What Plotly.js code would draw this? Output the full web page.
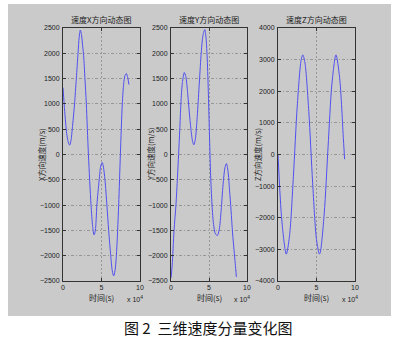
<!DOCTYPE html>
<html><head><meta charset="utf-8">
<script src="https://cdn.plot.ly/plotly-3.0.1.min.js"></script>
<style>html,body{margin:0;padding:0;background:#fff}#c{width:407px;height:343px}</style>
</head><body><div id="c"></div>
<script>
// time in units of 10^4 s
var tX = [0,0.15,0.3,0.45,0.6,0.75,0.87,1.05,1.2,1.35,1.5,1.73,1.95,2.1,2.25,2.4,2.55,2.68,2.85,3.03,3.3,3.64,3.85,4.03,4.2,4.4,4.7,4.9,5.1,5.25,5.45,5.7,5.93,6.2,6.4,6.58,6.75,6.93,7.23,7.45,7.7,7.88,8.05,8.23,8.4,8.57];
var vX = [1320,1000,700,450,300,210,185,290,500,740,1000,1500,2000,2320,2460,2370,2150,1950,1500,1000,0,-1000,-1420,-1590,-1500,-1000,-500,-230,-160,-250,-500,-1000,-1500,-2000,-2300,-2400,-2300,-2000,-1000,0,1000,1400,1560,1600,1520,1380];
var tY = [0,0.15,0.4,0.65,0.85,1.0,1.15,1.3,1.5,1.75,1.95,2.2,2.45,2.7,2.85,3.0,3.2,3.45,3.7,3.95,4.2,4.45,4.6,4.75,4.9,5.05,5.2,5.4,5.6,5.85,6.1,6.35,6.6,6.85,7.1,7.3,7.5,7.7,7.9,8.1,8.3,8.45,8.6];
var vY = [-2440,-2200,-1500,-1000,-450,0,480,1000,1420,1620,1540,1200,760,400,250,190,300,750,1350,1950,2350,2470,2320,1950,1300,450,-350,-1000,-1380,-1570,-1600,-1480,-1100,-600,-260,-180,-330,-700,-1100,-1550,-1900,-2150,-2420];
var tZ = [0,0.5,1.075,1.5,2.0,2.5,3.0,3.225,3.5,4.0,4.5,5.0,5.375,5.5,6.0,6.5,7.0,7.525,8.0,8.5,8.65];
var vZ = [0,-2100,-3150,-2565,-690,1535,2980,3150,2900,1360,-905,-2695,-3150,-3085,-1880,225,2230,3150,2435,460,-150];
var titles = ['速度X方向动态图','速度Y方向动态图','速度Z方向动态图'];
var yTitles = ['X方向速度(m/s)','Y方向速度(m/s)','Z方向速度(m/s)'];
var xTitle = '时间(s)';
var xTicks = [0,5,10];
var caption = '图 2  三维速度分量变化图';

var W=407,H=343;
var px = function(x){return x/W;}, py=function(y){return 1-y/H;};
var doms = [[63,140],[171,247],[278,355]];
var yDom = [py(281), py(28)];
var lineC = '#5050f0';
var traces = [
 {x:tX,y:vX,xaxis:'x',yaxis:'y',mode:'lines',line:{color:lineC,width:1,shape:'spline',smoothing:0.8},hoverinfo:'none'},
 {x:tY,y:vY,xaxis:'x2',yaxis:'y2',mode:'lines',line:{color:lineC,width:1,shape:'spline',smoothing:0.8},hoverinfo:'none'},
 {x:tZ,y:vZ,xaxis:'x3',yaxis:'y3',mode:'lines',line:{color:lineC,width:1,shape:'spline',smoothing:0.8},hoverinfo:'none'}
];
var tickFont = {family:'Liberation Sans, Arial, sans-serif', size:7, color:'#222'};
function xa(i){return {domain:[px(doms[i][0]),px(doms[i][1])],range:[0,10],tickvals:xTicks,ticktext:xTicks.map(String),
  anchor:'y'+(i?i+1:''),showline:true,linecolor:'#333',linewidth:1,mirror:'ticks',ticks:'inside',ticklen:3,tickcolor:'#333',
  showgrid:true,gridcolor:'#888',griddash:'2px,2px',gridwidth:0.8,zeroline:false,tickfont:tickFont,ticklabelstandoff:0,fixedrange:true};}
function ya(i,r,dt){return {domain:yDom,range:r,dtick:dt,anchor:'x'+(i?i+1:''),showline:true,linecolor:'#333',linewidth:1,mirror:'ticks',
  ticks:'inside',ticklen:3,tickcolor:'#333',showgrid:true,gridcolor:'#888',griddash:'3px,2px,1px,2px',gridwidth:0.8,zeroline:false,
  tickfont:tickFont,ticklabelstandoff:1,fixedrange:true};}
var ann = [];
var cjk = 'Noto Sans CJK SC, sans-serif';
for (var i=0;i<3;i++){
  var cx=(doms[i][0]+doms[i][1])/2;
  ann.push({xref:'paper',yref:'paper',x:px(cx),y:py(20),text:titles[i],showarrow:false,font:{family:cjk,size:8,color:'#222'},xanchor:'center',yanchor:'middle'});
  ann.push({xref:'paper',yref:'paper',x:px(cx),y:py(297),text:xTitle,showarrow:false,font:{family:cjk,size:8,color:'#222'},xanchor:'center',yanchor:'middle'});
  ann.push({xref:'paper',yref:'paper',x:px(doms[i][1]-5),y:py(299),text:'x 10<sup>4</sup>',showarrow:false,font:{family:'Liberation Sans, Arial',size:7,color:'#222'},xanchor:'center',yanchor:'middle'});
}
var yTx=[42,151,258];
for (var i=0;i<3;i++){
  ann.push({xref:'paper',yref:'paper',x:px(yTx[i]),y:py(155),text:yTitles[i],textangle:-90,showarrow:false,font:{family:cjk,size:7.5,color:'#222'},xanchor:'center',yanchor:'middle'});
}
ann.push({xref:'paper',yref:'paper',x:px(208),y:py(327),text:caption,showarrow:false,font:{family:'Noto Sans CJK SC, sans-serif',size:15,color:'#111'},xanchor:'center',yanchor:'middle'});
var layout = {width:W,height:H,margin:{l:0,r:0,t:0,b:0},paper_bgcolor:'#fff',plot_bgcolor:'#fff',showlegend:false,
  xaxis:xa(0),xaxis2:xa(1),xaxis3:xa(2),
  yaxis:ya(0,[-2500,2500],500),yaxis2:ya(1,[-2500,2500],500),yaxis3:ya(2,[-4000,4000],1000),
  annotations:ann,
  shapes:[{type:'rect',xref:'paper',yref:'paper',x0:px(8),x1:px(391),y0:py(316),y1:py(4),fillcolor:'#cacaca',line:{width:0},layer:'below'}]
};
Plotly.newPlot('c',traces,layout,{staticPlot:true,displayModeBar:false});
</script></body></html>
